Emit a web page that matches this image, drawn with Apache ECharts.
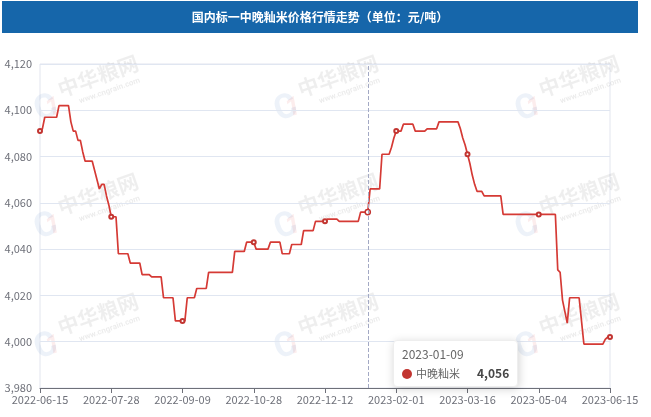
<!DOCTYPE html>
<html>
<head>
<meta charset="utf-8">
<script src="https://cdn.jsdelivr.net/npm/echarts@6/dist/echarts.min.js"></script>
<style>
html,body{margin:0;padding:0;background:#fff;}
#main{width:651px;height:417px;}
</style>
</head>
<body>
<div id="main"></div>
<script>
const titleText = '国内标一中晚籼米价格行情走势（单位：元/吨）';
const seriesName = '中晚籼米';

const dates = [
'2022-06-15','2022-06-16','2022-06-17','2022-06-20','2022-06-21','2022-06-22','2022-06-23','2022-06-24','2022-06-27','2022-06-28',
'2022-06-29','2022-06-30','2022-07-04','2022-07-05','2022-07-06','2022-07-07','2022-07-08','2022-07-11','2022-07-12','2022-07-13',
'2022-07-14','2022-07-15','2022-07-18','2022-07-19','2022-07-20','2022-07-21','2022-07-22','2022-07-25','2022-07-26','2022-07-27',
'2022-07-28','2022-07-29','2022-08-01','2022-08-02','2022-08-03','2022-08-04','2022-08-05','2022-08-08','2022-08-09','2022-08-10',
'2022-08-11','2022-08-12','2022-08-16','2022-08-17','2022-08-18','2022-08-19','2022-08-22','2022-08-23','2022-08-24','2022-08-25',
'2022-08-26','2022-08-29','2022-08-30','2022-08-31','2022-09-01','2022-09-02','2022-09-05','2022-09-06','2022-09-07','2022-09-08',
'2022-09-09','2022-09-13','2022-09-14','2022-09-15','2022-09-16','2022-09-19','2022-09-20','2022-09-21','2022-09-22','2022-09-23',
'2022-09-26','2022-09-27','2022-09-28','2022-09-29','2022-09-30','2022-10-08','2022-10-10','2022-10-11','2022-10-12','2022-10-13',
'2022-10-14','2022-10-17','2022-10-18','2022-10-19','2022-10-20','2022-10-21','2022-10-24','2022-10-25','2022-10-26','2022-10-27',
'2022-10-28','2022-10-31','2022-11-01','2022-11-02','2022-11-03','2022-11-04','2022-11-07','2022-11-08','2022-11-09','2022-11-10',
'2022-11-14','2022-11-15','2022-11-16','2022-11-17','2022-11-18','2022-11-21','2022-11-22','2022-11-23','2022-11-24','2022-11-25',
'2022-11-28','2022-11-29','2022-11-30','2022-12-01','2022-12-02','2022-12-05','2022-12-06','2022-12-07','2022-12-08','2022-12-09',
'2022-12-12','2022-12-13','2022-12-14','2022-12-15','2022-12-16','2022-12-19','2022-12-20','2022-12-21','2022-12-22','2022-12-23',
'2022-12-26','2022-12-27','2022-12-28','2022-12-29','2023-01-03','2023-01-04','2023-01-05','2023-01-06','2023-01-09','2023-01-10',
'2023-01-11','2023-01-12','2023-01-13','2023-01-16','2023-01-17','2023-01-18','2023-01-19','2023-01-20','2023-01-30','2023-01-31',
'2023-02-01','2023-02-02','2023-02-03','2023-02-06','2023-02-07','2023-02-08','2023-02-09','2023-02-10','2023-02-13','2023-02-14',
'2023-02-15','2023-02-16','2023-02-17','2023-02-20','2023-02-21','2023-02-22','2023-02-23','2023-02-27','2023-02-28','2023-03-01',
'2023-03-02','2023-03-03','2023-03-06','2023-03-07','2023-03-08','2023-03-09','2023-03-10','2023-03-13','2023-03-14','2023-03-15',
'2023-03-16','2023-03-17','2023-03-20','2023-03-21','2023-03-22','2023-03-23','2023-03-24','2023-03-27','2023-03-28','2023-03-29',
'2023-03-30','2023-03-31','2023-04-03','2023-04-04','2023-04-07','2023-04-10','2023-04-11','2023-04-12','2023-04-13','2023-04-14',
'2023-04-17','2023-04-18','2023-04-19','2023-04-20','2023-04-21','2023-04-24','2023-04-25','2023-04-26','2023-04-27','2023-04-28',
'2023-05-04','2023-05-05','2023-05-08','2023-05-09','2023-05-10','2023-05-11','2023-05-12','2023-05-15','2023-05-16','2023-05-17',
'2023-05-18','2023-05-19','2023-05-22','2023-05-23','2023-05-24','2023-05-25','2023-05-26','2023-05-29','2023-05-30','2023-05-31',
'2023-06-01','2023-06-02','2023-06-05','2023-06-06','2023-06-07','2023-06-08','2023-06-09','2023-06-12','2023-06-13','2023-06-14',
'2023-06-15'
];

const prices = [
4091,4092,4097,4097,4097,4097,4097,4097,4102,4102,
4102,4102,4102,4095,4091,4091,4087,4087,4082,4078,
4078,4078,4078,4074,4070,4066,4068,4068,4063,4059,
4054,4054,4054,4038,4038,4038,4038,4038,4034,4034,
4034,4034,4034,4029,4029,4029,4029,4028,4028,4028,
4028,4028,4019,4019,4019,4019,4019,4009,4009,4009,
4009,4009,4019,4019,4019,4019,4023,4023,4023,4023,
4023,4030,4030,4030,4030,4030,4030,4030,4030,4030,
4030,4030,4039,4039,4039,4039,4039,4043,4043,4043,
4043,4040,4040,4040,4040,4040,4040,4043,4043,4043,
4043,4043,4038,4038,4038,4038,4042,4042,4042,4042,
4042,4048,4048,4048,4048,4048,4052,4052,4052,4052,
4052,4053,4053,4053,4053,4053,4052,4052,4052,4052,
4052,4052,4052,4052,4052,4056,4056,4056,4056,4066,
4066,4066,4066,4066,4081,4081,4081,4081,4084,4088,
4091,4091,4091,4094,4094,4094,4094,4094,4091,4091,
4091,4091,4091,4092,4092,4092,4092,4092,4095,4095,
4095,4095,4095,4095,4095,4095,4095,4092,4088,4085,
4081,4077,4072,4068,4065,4065,4065,4063,4063,4063,
4063,4063,4063,4063,4063,4055,4055,4055,4055,4055,
4055,4055,4055,4055,4055,4055,4055,4055,4055,4055,
4055,4055,4055,4055,4055,4055,4055,4055,4031,4030,
4018,4013,4008,4019,4019,4019,4019,4019,4009,3999,
3999,3999,3999,3999,3999,3999,3999,3999,4001,4002,
4002
];

const yMin = 3980;
const yMax = 4120;
const yStep = 20;
const hoverIndex = 138;
const watermarkText = '中华粮网';
const watermarkUrl = 'www.cngrain.com';
const watermarkSpots = [[98,76],[338,76],[579,76],[98,194],[338,194],[579,194],[98,314],[338,314],[579,314]];

const cjk = '"Noto Sans CJK SC", "Noto Sans", sans-serif';

const graphics = [
  {type:'rect', shape:{x:2, y:1, width:636, height:32}, style:{fill:'#1666aa'}, z:10},
  {type:'text', x:320, y:17, z:11, style:{text:titleText, fill:'#fff', fontSize:12, fontWeight:'bold', fontFamily:cjk, align:'center', verticalAlign:'middle'}}
];
watermarkSpots.forEach(function(p){
  graphics.push({
    type:'group', x:p[0], y:p[1], rotation:0.34, z:0, silent:true,
    children:[
      {type:'text', x:0, y:0, style:{text:watermarkText, fill:'rgba(0,0,0,0.065)', fontSize:21, fontWeight:'bold', fontFamily:cjk, align:'center', verticalAlign:'middle'}},
      {type:'text', x:6, y:18, style:{text:watermarkUrl, fill:'rgba(0,0,0,0.08)', fontSize:8, fontWeight:'bold', fontFamily:'Roboto, sans-serif', align:'center', verticalAlign:'middle'}},
      {type:'text', x:-60, y:14, style:{text:'C', fill:'rgba(60,110,190,0.09)', fontSize:34, fontWeight:'bold', fontFamily:'Roboto, sans-serif', align:'center', verticalAlign:'middle'}},
      {type:'text', x:-53, y:16, style:{text:'1', fill:'rgba(220,60,60,0.09)', fontSize:26, fontWeight:'bold', fontStyle:'italic', fontFamily:'Roboto, sans-serif', align:'center', verticalAlign:'middle'}}
    ]
  });
});

const chart = echarts.init(document.getElementById('main'), null, {renderer:'canvas'});
chart.setOption({
  animation:false,
  backgroundColor:'#fff',
  graphic: graphics,
  grid:{left:40, right:41, top:64, bottom:29, show:true, borderColor:'#e2e5ee', borderWidth:1},
  tooltip:{
    trigger:'axis',
    alwaysShowContent:true,
    transitionDuration:0,
    position:[393, 340],
    backgroundColor:'#fff',
    borderColor:'#eeeeee',
    borderWidth:1,
    padding:[7,8],
    extraCssText:'box-shadow:1px 2px 10px rgba(0,0,0,0.18);border-radius:4px;',
    axisPointer:{type:'line', lineStyle:{color:'#a3a9c4', type:'dashed', width:1}},
    formatter:function(params){
      const p = params[0];
      return '<div style="font-family:' + cjk.replace(/"/g,"'") + ';">' +
        '<div style="font-size:12px;color:#666;line-height:12px;">' + p.name + '</div>' +
        '<div style="margin-top:7px;font-size:11px;line-height:12px;color:#666;white-space:nowrap;">' +
        '<span style="display:inline-block;width:10px;height:10px;border-radius:5px;background:' + p.color + ';margin-right:4px;vertical-align:-1px;"></span>' +
        p.seriesName +
        '<span style="float:right;margin-left:17px;font-size:12px;font-weight:bold;color:#464646;">' + echarts.format.addCommas(p.value) + '</span>' +
        '</div></div>';
    }
  },
  xAxis:{
    type:'category',
    data:dates,
    boundaryGap:false,
    axisLine:{lineStyle:{color:'#6e7079'}},
    axisTick:{alignWithLabel:true, interval:29},
    axisLabel:{interval:29, fontSize:11, color:'#6e7079', margin:6, fontFamily:cjk}
  },
  yAxis:{
    type:'value',
    min:yMin, max:yMax, interval:yStep,
    axisLine:{show:false},
    axisTick:{show:false},
    axisLabel:{fontSize:11, color:'#6e7079', fontFamily:cjk},
    splitLine:{lineStyle:{color:'#e0e6f1'}}
  },
  series:[{
    name:seriesName,
    type:'line',
    data:prices,
    showSymbol:true,
    symbol:'emptyCircle',
    symbolSize:4,
    color:'#c23531',
    lineStyle:{width:1.7, color:'#c23531'},
    itemStyle:{color:'#c23531', borderWidth:1.5},
    emphasis:{lineStyle:{width:1.7}, scale:1.3, itemStyle:{color:'#fff', borderColor:'#c23531', borderWidth:1.5}}
  }]
});
chart.dispatchAction({type:'showTip', seriesIndex:0, dataIndex:hoverIndex});
setTimeout(function(){ chart.dispatchAction({type:'showTip', seriesIndex:0, dataIndex:hoverIndex}); }, 50);
</script>
</body>
</html>
